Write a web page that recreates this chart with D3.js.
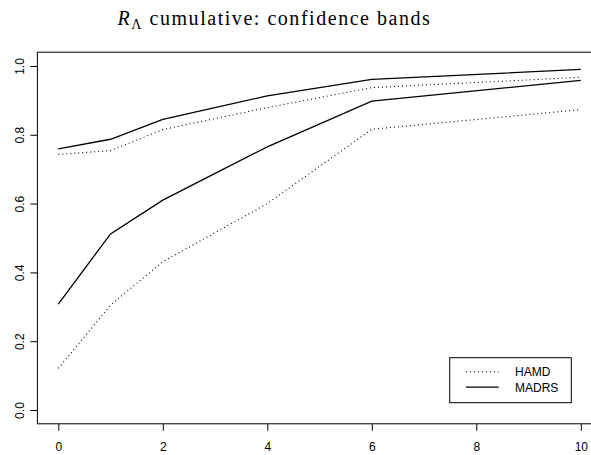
<!DOCTYPE html>
<html>
<head>
<meta charset="utf-8">
<script src="https://cdn.jsdelivr.net/npm/d3@7"></script>
<style>
  body { margin: 0; background: white; }
  svg { display: block; }
</style>
</head>
<body>
<div id="vis"></div>
<script>
// chart data
let weeks = [0, 1, 2, 4, 6, 10];
let hamdUpper = [0.743, 0.754, 0.815, 0.879, 0.937, 0.967];
let hamdLower = [0.121, 0.305, 0.431, 0.600, 0.816, 0.873];
let madrsUpper = [0.759, 0.787, 0.845, 0.913, 0.961, 0.990];
let madrsLower = [0.308, 0.512, 0.610, 0.765, 0.898, 0.958];
let xTicks = [0, 2, 4, 6, 8, 10];
let yTicks = [0, 0.2, 0.4, 0.6, 0.8, 1.0];

let width = 591, height = 455;
let box = { left: 37.4, right: 601.7, top: 52.2, bottom: 423.8 };

let svg = d3.select('#vis')
  .append('svg')
  .attr('width', width)
  .attr('height', height)
  .style('background-color', 'white');

// R style scales: 4% padding around data range
let x = d3.scaleLinear().domain([-0.4, 10.4]).range([box.left, box.right]);
let y = d3.scaleLinear().domain([-0.04, 1.04]).range([box.bottom, box.top]);

// plot box
svg.append('rect')
  .attr('x', box.left)
  .attr('y', box.top)
  .attr('width', box.right - box.left)
  .attr('height', box.bottom - box.top)
  .attr('fill', 'none')
  .attr('stroke', '#000')
  .attr('stroke-width', 1);

// x axis
let xAxis = svg.append('g')
  .attr('transform', 'translate(0,' + box.bottom + ')')
  .call(d3.axisBottom(x).tickValues(xTicks).tickFormat(d3.format('d')).tickSize(7).tickPadding(12));
xAxis.select('.domain').remove();
xAxis.selectAll('text')
  .style('font-family', 'Liberation Sans, Arial, sans-serif')
  .style('font-size', '12px')
  .attr('fill', '#000');

// y axis with rotated labels
let yAxis = svg.append('g')
  .attr('transform', 'translate(' + box.left + ',0)')
  .call(d3.axisLeft(y).tickValues(yTicks).tickFormat(d3.format('.1f')).tickSize(7));
yAxis.select('.domain').remove();
yAxis.selectAll('text')
  .attr('transform', 'rotate(-90)')
  .attr('x', 0)
  .attr('y', -13)
  .attr('dy', 0)
  .attr('text-anchor', 'middle')
  .style('font-family', 'Liberation Sans, Arial, sans-serif')
  .style('font-size', '12px')
  .attr('fill', '#000');

// lines
let line = d3.line()
  .x((d, i) => x(weeks[i]))
  .y(d => y(d));

let series = [
  { values: hamdUpper, dash: '1,3', w: 1.1 },
  { values: hamdLower, dash: '1,3', w: 1.1 },
  { values: madrsUpper, dash: null, w: 1.3 },
  { values: madrsLower, dash: null, w: 1.3 }
];

svg.selectAll('path.band')
  .data(series)
  .enter()
  .append('path')
  .attr('class', 'band')
  .attr('d', d => line(d.values))
  .attr('fill', 'none')
  .attr('stroke', '#000')
  .attr('stroke-width', d => d.w)
  .attr('stroke-dasharray', d => d.dash);

// legend
let legend = svg.append('g');
legend.append('rect')
  .attr('x', 449.7)
  .attr('y', 357.7)
  .attr('width', 121.6)
  .attr('height', 45)
  .attr('fill', 'white')
  .attr('stroke', '#000')
  .attr('stroke-width', 1);

let legendItems = [
  { label: 'HAMD', dash: '1,3', w: 1.1 },
  { label: 'MADRS', dash: null, w: 1.3 }
];
legendItems.forEach(function(item, i) {
  let ly = 371.7 + i * 15.5;
  legend.append('line')
    .attr('x1', 466).attr('x2', 498.7)
    .attr('y1', ly).attr('y2', ly)
    .attr('stroke', '#000')
    .attr('stroke-width', item.w)
    .attr('stroke-dasharray', item.dash);
  legend.append('text')
    .attr('x', 515)
    .attr('y', ly + 4.6)
    .style('font-family', 'Liberation Sans, Arial, sans-serif')
    .style('font-size', '12px')
    .text(item.label);
});

// title: R_Lambda cumulative: confidence bands (wide TeX-like serif)
let titleText = ' cumulative: confidence bands';
let title = svg.append('text')
  .attr('x', 274.5)
  .attr('y', 25)
  .attr('text-anchor', 'middle')
  .style('font-family', 'Liberation Serif, Times New Roman, serif')
  .style('font-size', '20px');
title.append('tspan').style('font-style', 'italic').text('R');
title.append('tspan').attr('dy', 3.5).style('font-size', '14px').text('Λ');
title.append('tspan').attr('dy', -3.5).text(titleText);
// widen a little with letter spacing so the title spans the reference width
let tw = title.node().getBBox().width;
let nChars = titleText.length + 2;
title.style('letter-spacing', Math.max(0, (315 - tw) / nChars) + 'px');
</script>
</body>
</html>
